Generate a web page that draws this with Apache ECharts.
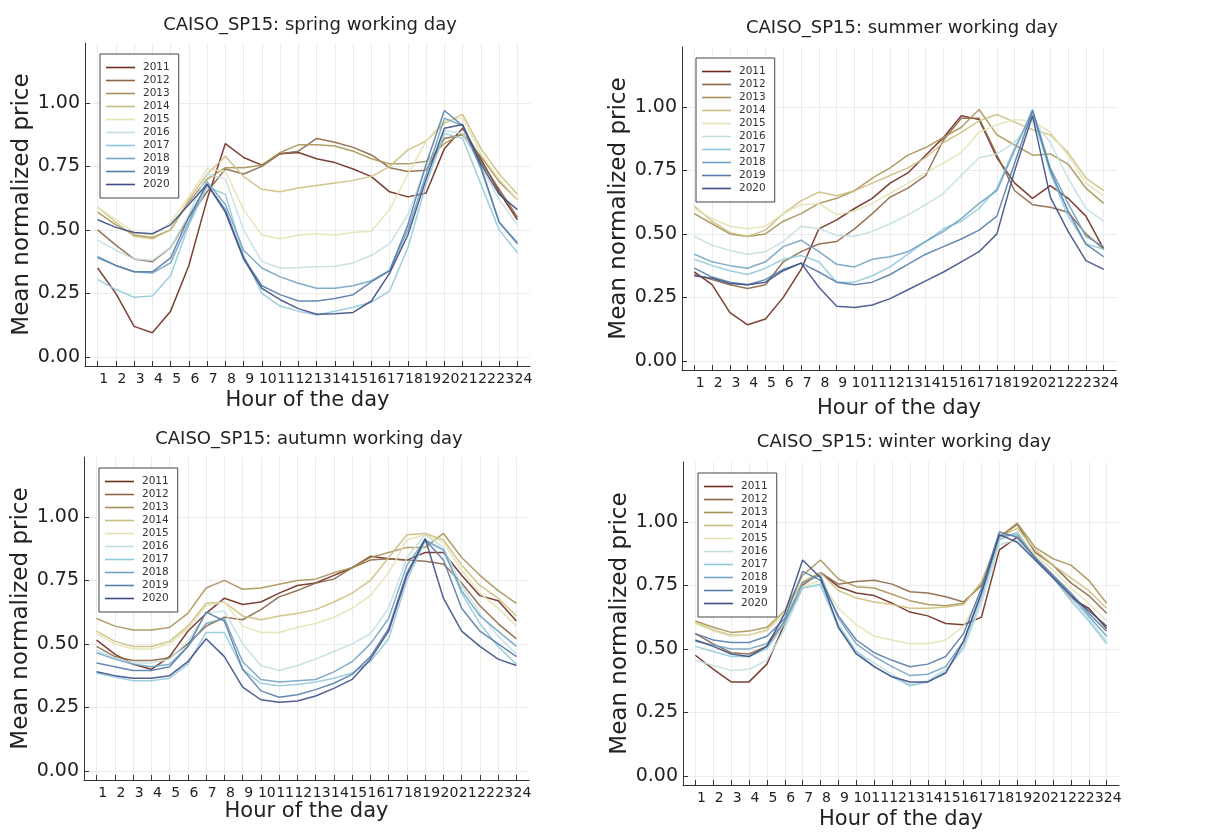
<!DOCTYPE html>
<html lang="en">
<head>
    <meta charset="UTF-8">
    <title>CAISO_SP15 working day prices</title>
    <script src="https://cdn.jsdelivr.net/npm/echarts@6.0.0/dist/echarts.min.js"></script>
    <style>
        html, body { margin: 0; padding: 0; background: #fff; }
        #main { width: 1212px; height: 835px; }
    </style>
</head>
<body>
<div id="main"></div>

<script>
    // hours of the day and legend years
    var hours = [1, 2, 3, 4, 5, 6, 7, 8, 9, 10, 11, 12, 13, 14, 15, 16, 17, 18, 19, 20, 21, 22, 23, 24];
    var years = ['2011', '2012', '2013', '2014', '2015', '2016', '2017', '2018', '2019', '2020'];
    var yTicks = [0, 0.25, 0.5, 0.75, 1.0];
    var seasons = ['spring', 'summer', 'autumn', 'winter'];

    // mean normalized price, one row per year (2011 .. 2020)
    var spring = [
        [0.35, 0.25, 0.12, 0.095, 0.18, 0.36, 0.62, 0.84, 0.785, 0.755, 0.80, 0.805, 0.78, 0.765, 0.74, 0.71, 0.65, 0.63, 0.645, 0.82, 0.90, 0.78, 0.65, 0.54],
        [0.50, 0.44, 0.385, 0.375, 0.43, 0.55, 0.65, 0.74, 0.72, 0.75, 0.80, 0.81, 0.86, 0.845, 0.825, 0.795, 0.745, 0.73, 0.735, 0.86, 0.875, 0.77, 0.66, 0.55],
        [0.57, 0.52, 0.48, 0.47, 0.50, 0.61, 0.70, 0.745, 0.745, 0.755, 0.805, 0.835, 0.835, 0.83, 0.81, 0.78, 0.76, 0.76, 0.77, 0.84, 0.88, 0.79, 0.69, 0.62],
        [0.59, 0.53, 0.475, 0.465, 0.50, 0.62, 0.72, 0.79, 0.71, 0.66, 0.65, 0.665, 0.675, 0.685, 0.695, 0.71, 0.75, 0.815, 0.85, 0.92, 0.955, 0.82, 0.72, 0.64],
        [0.59, 0.54, 0.49, 0.48, 0.53, 0.63, 0.74, 0.73, 0.58, 0.48, 0.465, 0.48, 0.485, 0.48, 0.49, 0.495, 0.58, 0.72, 0.85, 0.93, 0.94, 0.80, 0.70, 0.62],
        [0.46, 0.42, 0.385, 0.38, 0.43, 0.56, 0.72, 0.70, 0.50, 0.375, 0.35, 0.352, 0.355, 0.357, 0.37, 0.40, 0.445, 0.56, 0.75, 0.89, 0.88, 0.75, 0.62, 0.52],
        [0.305, 0.265, 0.235, 0.24, 0.32, 0.52, 0.67, 0.64, 0.40, 0.25, 0.20, 0.18, 0.165, 0.18, 0.195, 0.215, 0.26, 0.43, 0.68, 0.88, 0.86, 0.68, 0.50, 0.41],
        [0.39, 0.36, 0.335, 0.33, 0.37, 0.53, 0.69, 0.60, 0.42, 0.35, 0.315, 0.29, 0.27, 0.27, 0.28, 0.30, 0.34, 0.50, 0.72, 0.94, 0.91, 0.74, 0.53, 0.45],
        [0.395, 0.36, 0.335, 0.335, 0.39, 0.55, 0.68, 0.58, 0.39, 0.28, 0.245, 0.22, 0.22, 0.23, 0.245, 0.295, 0.34, 0.52, 0.76, 0.97, 0.91, 0.75, 0.53, 0.445],
        [0.54, 0.51, 0.49, 0.485, 0.52, 0.60, 0.68, 0.57, 0.385, 0.27, 0.225, 0.19, 0.168, 0.17, 0.175, 0.22, 0.33, 0.48, 0.70, 0.90, 0.915, 0.76, 0.64, 0.58]
    ];
    var summer = [
        [0.35, 0.30, 0.19, 0.142, 0.165, 0.25, 0.36, 0.52, 0.555, 0.60, 0.64, 0.70, 0.74, 0.81, 0.88, 0.965, 0.95, 0.80, 0.70, 0.64, 0.69, 0.64, 0.57, 0.44],
        [0.34, 0.32, 0.30, 0.285, 0.30, 0.39, 0.43, 0.46, 0.47, 0.52, 0.58, 0.645, 0.68, 0.73, 0.87, 0.955, 0.955, 0.81, 0.67, 0.615, 0.605, 0.585, 0.50, 0.44],
        [0.58, 0.54, 0.50, 0.49, 0.50, 0.55, 0.58, 0.62, 0.64, 0.67, 0.72, 0.76, 0.81, 0.84, 0.88, 0.92, 0.99, 0.89, 0.85, 0.81, 0.815, 0.775, 0.68, 0.62],
        [0.61, 0.55, 0.505, 0.49, 0.515, 0.58, 0.63, 0.665, 0.65, 0.67, 0.70, 0.73, 0.76, 0.80, 0.86, 0.90, 0.945, 0.97, 0.94, 0.91, 0.89, 0.82, 0.72, 0.67],
        [0.60, 0.56, 0.53, 0.52, 0.53, 0.58, 0.615, 0.62, 0.575, 0.59, 0.62, 0.66, 0.70, 0.74, 0.78, 0.82, 0.90, 0.93, 0.95, 0.945, 0.90, 0.81, 0.70, 0.65],
        [0.49, 0.455, 0.435, 0.42, 0.43, 0.47, 0.53, 0.52, 0.495, 0.49, 0.51, 0.54, 0.575, 0.615, 0.66, 0.73, 0.80, 0.815, 0.86, 0.95, 0.86, 0.72, 0.60, 0.55],
        [0.40, 0.375, 0.355, 0.34, 0.365, 0.40, 0.415, 0.39, 0.31, 0.31, 0.335, 0.37, 0.42, 0.47, 0.52, 0.55, 0.60, 0.68, 0.84, 0.97, 0.74, 0.57, 0.46, 0.44],
        [0.42, 0.39, 0.375, 0.365, 0.39, 0.45, 0.475, 0.43, 0.38, 0.37, 0.40, 0.41, 0.43, 0.47, 0.51, 0.56, 0.62, 0.67, 0.83, 0.99, 0.76, 0.62, 0.49, 0.45],
        [0.365, 0.33, 0.31, 0.30, 0.32, 0.36, 0.385, 0.35, 0.31, 0.30, 0.31, 0.34, 0.38, 0.42, 0.45, 0.48, 0.515, 0.57, 0.78, 0.985, 0.75, 0.59, 0.46, 0.41],
        [0.335, 0.325, 0.305, 0.30, 0.31, 0.355, 0.385, 0.29, 0.215, 0.21, 0.22, 0.245, 0.28, 0.315, 0.35, 0.39, 0.43, 0.50, 0.75, 0.965, 0.645, 0.51, 0.395, 0.36]
    ];
    var autumn = [
        [0.515, 0.46, 0.42, 0.40, 0.45, 0.55, 0.62, 0.68, 0.655, 0.665, 0.70, 0.73, 0.74, 0.77, 0.80, 0.845, 0.835, 0.83, 0.86, 0.86, 0.77, 0.69, 0.67, 0.59],
        [0.49, 0.45, 0.435, 0.435, 0.445, 0.50, 0.57, 0.605, 0.595, 0.635, 0.685, 0.71, 0.74, 0.755, 0.80, 0.83, 0.835, 0.83, 0.825, 0.815, 0.74, 0.65, 0.58, 0.52],
        [0.60, 0.57, 0.555, 0.555, 0.565, 0.62, 0.72, 0.75, 0.715, 0.72, 0.735, 0.75, 0.755, 0.78, 0.80, 0.84, 0.86, 0.88, 0.88, 0.935, 0.84, 0.77, 0.71, 0.66],
        [0.55, 0.51, 0.49, 0.49, 0.51, 0.57, 0.66, 0.665, 0.61, 0.595, 0.61, 0.62, 0.635, 0.665, 0.70, 0.75, 0.84, 0.93, 0.935, 0.91, 0.81, 0.73, 0.68, 0.61],
        [0.54, 0.50, 0.48, 0.48, 0.50, 0.56, 0.65, 0.665, 0.57, 0.545, 0.545, 0.565, 0.58, 0.605, 0.64, 0.69, 0.78, 0.91, 0.93, 0.90, 0.79, 0.70, 0.64, 0.57],
        [0.475, 0.445, 0.425, 0.425, 0.44, 0.51, 0.62, 0.63, 0.50, 0.415, 0.395, 0.415, 0.44, 0.47, 0.50, 0.54, 0.64, 0.84, 0.93, 0.88, 0.73, 0.62, 0.53, 0.46],
        [0.385, 0.37, 0.355, 0.355, 0.365, 0.42, 0.545, 0.545, 0.40, 0.345, 0.335, 0.34, 0.35, 0.365, 0.385, 0.43, 0.52, 0.75, 0.905, 0.87, 0.70, 0.58, 0.49, 0.42],
        [0.465, 0.44, 0.42, 0.41, 0.42, 0.49, 0.58, 0.60, 0.43, 0.36, 0.35, 0.355, 0.36, 0.39, 0.43, 0.50, 0.60, 0.81, 0.91, 0.87, 0.71, 0.61, 0.55, 0.49],
        [0.425, 0.41, 0.395, 0.395, 0.41, 0.49, 0.625, 0.59, 0.40, 0.315, 0.29, 0.30, 0.32, 0.345, 0.38, 0.45, 0.56, 0.78, 0.91, 0.83, 0.64, 0.55, 0.50, 0.45],
        [0.39, 0.375, 0.365, 0.365, 0.375, 0.43, 0.52, 0.45, 0.33, 0.28, 0.27, 0.275, 0.295, 0.325, 0.36, 0.44, 0.55, 0.77, 0.915, 0.68, 0.55, 0.49, 0.44, 0.415]
    ];
    var winter = [
        [0.475, 0.42, 0.37, 0.37, 0.44, 0.60, 0.76, 0.80, 0.745, 0.72, 0.71, 0.68, 0.645, 0.63, 0.60, 0.595, 0.625, 0.89, 0.94, 0.86, 0.78, 0.70, 0.66, 0.58],
        [0.56, 0.52, 0.485, 0.48, 0.51, 0.61, 0.75, 0.80, 0.755, 0.765, 0.77, 0.755, 0.725, 0.72, 0.705, 0.685, 0.75, 0.94, 0.99, 0.88, 0.83, 0.76, 0.71, 0.64],
        [0.61, 0.585, 0.565, 0.57, 0.585, 0.65, 0.79, 0.85, 0.775, 0.745, 0.74, 0.715, 0.69, 0.675, 0.67, 0.68, 0.755, 0.94, 0.995, 0.90, 0.855, 0.83, 0.77, 0.68],
        [0.605, 0.575, 0.555, 0.555, 0.575, 0.65, 0.765, 0.80, 0.73, 0.70, 0.685, 0.675, 0.66, 0.66, 0.665, 0.675, 0.765, 0.94, 0.975, 0.89, 0.83, 0.78, 0.73, 0.66],
        [0.60, 0.57, 0.55, 0.555, 0.57, 0.64, 0.745, 0.77, 0.66, 0.595, 0.55, 0.535, 0.52, 0.52, 0.535, 0.59, 0.72, 0.93, 0.96, 0.87, 0.81, 0.74, 0.68, 0.61],
        [0.455, 0.435, 0.415, 0.42, 0.455, 0.58, 0.74, 0.75, 0.58, 0.49, 0.445, 0.40, 0.36, 0.375, 0.42, 0.50, 0.68, 0.91, 0.93, 0.85, 0.78, 0.70, 0.62, 0.53],
        [0.51, 0.49, 0.47, 0.47, 0.50, 0.60, 0.74, 0.755, 0.595, 0.49, 0.43, 0.39, 0.355, 0.37, 0.41, 0.51, 0.70, 0.93, 0.96, 0.85, 0.78, 0.69, 0.61, 0.52],
        [0.53, 0.515, 0.50, 0.50, 0.52, 0.61, 0.76, 0.79, 0.62, 0.52, 0.47, 0.43, 0.395, 0.40, 0.43, 0.53, 0.72, 0.945, 0.95, 0.86, 0.79, 0.71, 0.63, 0.55],
        [0.56, 0.535, 0.525, 0.525, 0.55, 0.62, 0.805, 0.77, 0.63, 0.535, 0.485, 0.455, 0.43, 0.44, 0.47, 0.56, 0.74, 0.96, 0.94, 0.86, 0.79, 0.72, 0.64, 0.57],
        [0.535, 0.51, 0.48, 0.47, 0.51, 0.64, 0.85, 0.78, 0.585, 0.48, 0.43, 0.39, 0.37, 0.37, 0.405, 0.53, 0.72, 0.95, 0.92, 0.85, 0.78, 0.71, 0.65, 0.59]
    ];
    var seasonData = [spring, summer, autumn, winter];

    var colors = ['#6e2b1f', '#8c6646', '#a99257', '#cdbf7e', '#e4e2b4', '#c2dfe0', '#92cadb', '#72a3c2', '#587ca8', '#3d4f85'];

    // panel boxes (plot area) and text placement
    var panels = [
        {left: 85,  top: 43,  width: 445, title: 305, titleTop: 11,  nameGap: 24, legendLeft: 100, legendTop: 54},
        {left: 682, top: 47,  width: 434, title: 897, titleTop: 14,  nameGap: 28, legendLeft: 696, legendTop: 58},
        {left: 84,  top: 457, width: 445, title: 304, titleTop: 425, nameGap: 15, legendLeft: 99,  legendTop: 468},
        {left: 683, top: 462, width: 436, title: 899, titleTop: 428, nameGap: 24, legendLeft: 698, legendTop: 473}
    ];

    var font = 'DejaVu Sans';
    var grids = [], xAxes = [], yAxes = [], titles = [], legends = [], series = [];

    panels.forEach(function (p, i) {
        grids.push({left: p.left, top: p.top, width: p.width, height: 323});

        titles.push({
            text: 'CAISO_SP15: ' + seasons[i] + ' working day',
            left: p.title, top: p.titleTop, textAlign: 'center',
            textStyle: {fontFamily: font, fontSize: 18, fontWeight: 'normal', color: '#222'}
        });

        xAxes.push({
            type: 'value', gridIndex: i, min: 0.31, max: 24.69,
            name: 'Hour of the day', nameLocation: 'middle', nameGap: p.nameGap,
            nameTextStyle: {fontFamily: font, fontSize: 21, color: '#222', verticalAlign: 'top'},
            axisLine: {onZero: false, lineStyle: {color: '#333', width: 1}},
            axisTick: {inside: true, length: 5, customValues: hours, lineStyle: {color: '#333'}},
            axisLabel: {customValues: hours, fontFamily: font, fontSize: 14, color: '#222', margin: 6, padding: [0, 0, 0, 12]},
            splitLine: {show: true, lineStyle: {color: '#ececec', width: 1}}
        });

        yAxes.push({
            type: 'value', gridIndex: i, min: -0.036, max: 1.236,
            name: 'Mean normalized price', nameLocation: 'middle', nameGap: 51,
            nameTextStyle: {fontFamily: font, fontSize: 23, color: '#222'},
            axisLine: {show: true, onZero: false, lineStyle: {color: '#333', width: 1}},
            axisTick: {show: true, inside: true, length: 5, customValues: yTicks, lineStyle: {color: '#333'}},
            axisLabel: {
                customValues: yTicks, fontFamily: font, fontSize: 19, color: '#222', margin: 5,
                formatter: function (v) { return v.toFixed(2); }
            },
            splitLine: {show: true, lineStyle: {color: '#ececec', width: 1}}
        });

        // legend samples are plain short lines, no markers
        legends.push({
            data: years, orient: 'vertical', left: p.legendLeft, top: p.legendTop,
            icon: 'rect', itemWidth: 29, itemHeight: 1.6, itemGap: 0,
            padding: [7, 9, 7, 6],
            backgroundColor: '#fff', borderColor: '#444', borderWidth: 1, borderRadius: 0,
            textStyle: {fontFamily: font, fontSize: 10.5, lineHeight: 13, color: '#333', padding: [0, 0, 0, 3]}
        });

        seasonData[i].forEach(function (row, j) {
            series.push({
                name: years[j], type: 'line', xAxisIndex: i, yAxisIndex: i,
                data: hours.map(function (h, k) { return [h, row[k]]; }),
                symbol: 'none', color: colors[j],
                lineStyle: {width: 1.5, opacity: 0.9}
            });
        });
    });

    var myChart = echarts.init(document.getElementById('main'));
    myChart.setOption({
        animation: false,
        backgroundColor: '#fff',
        title: titles,
        legend: legends,
        grid: grids,
        xAxis: xAxes,
        yAxis: yAxes,
        series: series
    });
</script>
</body>
</html>
